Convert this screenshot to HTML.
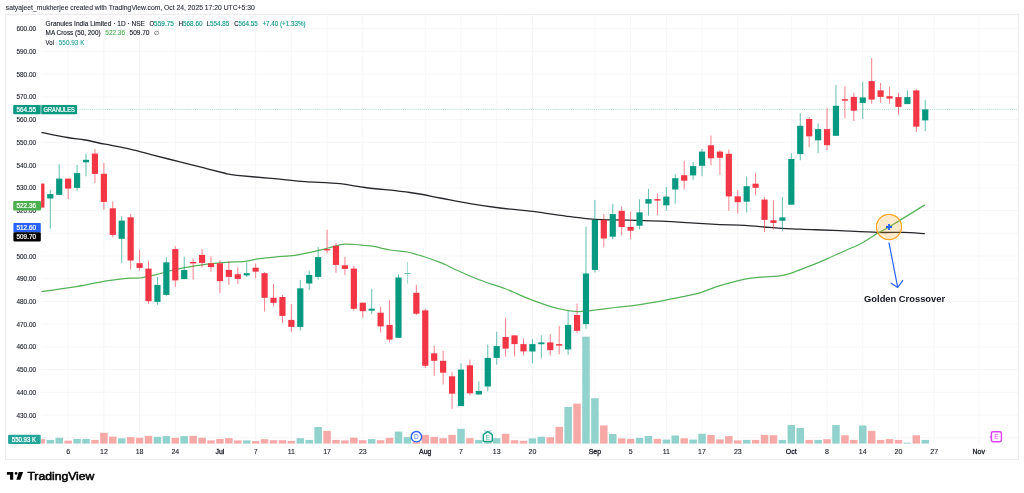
<!DOCTYPE html>
<html><head><meta charset="utf-8"><title>Granules India Limited chart</title>
<style>html,body{margin:0;padding:0;background:#fff}body{width:1024px;height:493px;overflow:hidden}</style></head>
<body>
<svg width="1024" height="493" viewBox="0 0 1024 493" style="display:block">
<rect x="0" y="0" width="1024" height="493" fill="#ffffff"/>
<rect x="5.5" y="14.5" width="1013" height="445" fill="none" stroke="#ebebee" stroke-width="1"/>
<path d="M68.15 15V443.7M103.87 15V443.7M139.58 15V443.7M175.29 15V443.7M219.93 15V443.7M255.64 15V443.7M291.35 15V443.7M327.07 15V443.7M362.78 15V443.7M425.27 15V443.7M460.99 15V443.7M496.70 15V443.7M532.41 15V443.7M594.91 15V443.7M630.62 15V443.7M666.33 15V443.7M702.04 15V443.7M737.75 15V443.7M791.32 15V443.7M827.03 15V443.7M862.75 15V443.7M898.46 15V443.7M934.17 15V443.7M978.81 15V443.7M41.5 437.74H1018M41.5 415.02H1018M41.5 392.30H1018M41.5 369.58H1018M41.5 346.86H1018M41.5 324.14H1018M41.5 301.42H1018M41.5 278.70H1018M41.5 255.98H1018M41.5 233.26H1018M41.5 210.54H1018M41.5 187.82H1018M41.5 165.10H1018M41.5 142.38H1018M41.5 119.66H1018M41.5 96.94H1018M41.5 74.22H1018M41.5 51.50H1018M41.5 28.78H1018" stroke="#f8f5f7" stroke-width="1" fill="none"/>
<clipPath id="pane"><rect x="41.2" y="15" width="976.8" height="428.8"/></clipPath>
<g clip-path="url(#pane)">
<rect x="37.62" y="439.1" width="7.5" height="4.7" fill="#f7a9a7"/>
<rect x="46.55" y="439.9" width="7.5" height="3.9" fill="#92d2cc"/>
<rect x="55.48" y="437.8" width="7.5" height="6.0" fill="#92d2cc"/>
<rect x="64.40" y="440.6" width="7.5" height="3.2" fill="#f7a9a7"/>
<rect x="73.33" y="438.9" width="7.5" height="4.9" fill="#92d2cc"/>
<rect x="82.26" y="438.9" width="7.5" height="4.9" fill="#92d2cc"/>
<rect x="91.19" y="439.9" width="7.5" height="3.9" fill="#f7a9a7"/>
<rect x="100.12" y="432.8" width="7.5" height="11.0" fill="#f7a9a7"/>
<rect x="109.04" y="436.6" width="7.5" height="7.2" fill="#f7a9a7"/>
<rect x="117.97" y="438.3" width="7.5" height="5.5" fill="#92d2cc"/>
<rect x="126.90" y="437.1" width="7.5" height="6.7" fill="#f7a9a7"/>
<rect x="135.83" y="437.8" width="7.5" height="6.0" fill="#f7a9a7"/>
<rect x="144.76" y="435.9" width="7.5" height="7.9" fill="#f7a9a7"/>
<rect x="153.68" y="436.8" width="7.5" height="7.0" fill="#92d2cc"/>
<rect x="162.61" y="436.1" width="7.5" height="7.7" fill="#92d2cc"/>
<rect x="171.54" y="437.8" width="7.5" height="6.0" fill="#f7a9a7"/>
<rect x="180.47" y="436.1" width="7.5" height="7.7" fill="#92d2cc"/>
<rect x="189.40" y="435.9" width="7.5" height="7.9" fill="#f7a9a7"/>
<rect x="198.32" y="437.7" width="7.5" height="6.1" fill="#f7a9a7"/>
<rect x="207.25" y="440.4" width="7.5" height="3.4" fill="#f7a9a7"/>
<rect x="216.18" y="438.9" width="7.5" height="4.9" fill="#f7a9a7"/>
<rect x="225.11" y="438.1" width="7.5" height="5.7" fill="#f7a9a7"/>
<rect x="234.04" y="440.4" width="7.5" height="3.4" fill="#f7a9a7"/>
<rect x="242.96" y="440.4" width="7.5" height="3.4" fill="#92d2cc"/>
<rect x="251.89" y="441.1" width="7.5" height="2.7" fill="#f7a9a7"/>
<rect x="260.82" y="439.2" width="7.5" height="4.6" fill="#f7a9a7"/>
<rect x="269.75" y="440.2" width="7.5" height="3.6" fill="#f7a9a7"/>
<rect x="278.68" y="440.2" width="7.5" height="3.6" fill="#f7a9a7"/>
<rect x="287.60" y="440.9" width="7.5" height="2.9" fill="#f7a9a7"/>
<rect x="296.53" y="438.2" width="7.5" height="5.6" fill="#92d2cc"/>
<rect x="305.46" y="439.9" width="7.5" height="3.9" fill="#92d2cc"/>
<rect x="314.39" y="427.0" width="7.5" height="16.8" fill="#92d2cc"/>
<rect x="323.32" y="430.9" width="7.5" height="12.9" fill="#f7a9a7"/>
<rect x="332.24" y="439.9" width="7.5" height="3.9" fill="#f7a9a7"/>
<rect x="341.17" y="440.4" width="7.5" height="3.4" fill="#f7a9a7"/>
<rect x="350.10" y="437.7" width="7.5" height="6.1" fill="#f7a9a7"/>
<rect x="359.03" y="440.2" width="7.5" height="3.6" fill="#f7a9a7"/>
<rect x="367.96" y="439.1" width="7.5" height="4.7" fill="#92d2cc"/>
<rect x="376.88" y="440.2" width="7.5" height="3.6" fill="#f7a9a7"/>
<rect x="385.81" y="437.9" width="7.5" height="5.9" fill="#f7a9a7"/>
<rect x="394.74" y="431.6" width="7.5" height="12.2" fill="#92d2cc"/>
<rect x="403.67" y="437.1" width="7.5" height="6.7" fill="#92d2cc"/>
<rect x="412.60" y="441.0" width="7.5" height="2.8" fill="#f7a9a7"/>
<rect x="421.52" y="434.9" width="7.5" height="8.9" fill="#f7a9a7"/>
<rect x="430.45" y="436.9" width="7.5" height="6.9" fill="#f7a9a7"/>
<rect x="439.38" y="438.2" width="7.5" height="5.6" fill="#f7a9a7"/>
<rect x="448.31" y="434.9" width="7.5" height="8.9" fill="#f7a9a7"/>
<rect x="457.24" y="428.8" width="7.5" height="15.0" fill="#92d2cc"/>
<rect x="466.16" y="438.2" width="7.5" height="5.6" fill="#f7a9a7"/>
<rect x="475.09" y="439.9" width="7.5" height="3.9" fill="#92d2cc"/>
<rect x="484.02" y="432.4" width="7.5" height="11.4" fill="#92d2cc"/>
<rect x="492.95" y="438.2" width="7.5" height="5.6" fill="#92d2cc"/>
<rect x="501.88" y="433.8" width="7.5" height="10.0" fill="#f7a9a7"/>
<rect x="510.80" y="440.2" width="7.5" height="3.6" fill="#f7a9a7"/>
<rect x="519.73" y="440.8" width="7.5" height="3.0" fill="#f7a9a7"/>
<rect x="528.66" y="438.4" width="7.5" height="5.4" fill="#92d2cc"/>
<rect x="537.59" y="436.7" width="7.5" height="7.1" fill="#92d2cc"/>
<rect x="546.52" y="437.2" width="7.5" height="6.6" fill="#f7a9a7"/>
<rect x="555.44" y="426.9" width="7.5" height="16.9" fill="#f7a9a7"/>
<rect x="564.37" y="407.0" width="7.5" height="36.8" fill="#92d2cc"/>
<rect x="573.30" y="403.6" width="7.5" height="40.2" fill="#f7a9a7"/>
<rect x="582.23" y="336.6" width="7.5" height="107.2" fill="#92d2cc"/>
<rect x="591.16" y="398.2" width="7.5" height="45.6" fill="#92d2cc"/>
<rect x="600.08" y="425.5" width="7.5" height="18.3" fill="#f7a9a7"/>
<rect x="609.01" y="434.0" width="7.5" height="9.8" fill="#92d2cc"/>
<rect x="617.94" y="438.4" width="7.5" height="5.4" fill="#f7a9a7"/>
<rect x="626.87" y="438.9" width="7.5" height="4.9" fill="#f7a9a7"/>
<rect x="635.80" y="437.9" width="7.5" height="5.9" fill="#92d2cc"/>
<rect x="644.72" y="435.9" width="7.5" height="7.9" fill="#92d2cc"/>
<rect x="653.65" y="438.9" width="7.5" height="4.9" fill="#f7a9a7"/>
<rect x="662.58" y="439.6" width="7.5" height="4.2" fill="#92d2cc"/>
<rect x="671.51" y="435.5" width="7.5" height="8.3" fill="#92d2cc"/>
<rect x="680.44" y="438.3" width="7.5" height="5.5" fill="#f7a9a7"/>
<rect x="689.36" y="439.6" width="7.5" height="4.2" fill="#92d2cc"/>
<rect x="698.29" y="433.8" width="7.5" height="10.0" fill="#92d2cc"/>
<rect x="707.22" y="434.9" width="7.5" height="8.9" fill="#f7a9a7"/>
<rect x="716.15" y="439.4" width="7.5" height="4.4" fill="#f7a9a7"/>
<rect x="725.08" y="436.1" width="7.5" height="7.7" fill="#f7a9a7"/>
<rect x="734.00" y="440.4" width="7.5" height="3.4" fill="#f7a9a7"/>
<rect x="742.93" y="439.9" width="7.5" height="3.9" fill="#92d2cc"/>
<rect x="751.86" y="439.9" width="7.5" height="3.9" fill="#f7a9a7"/>
<rect x="760.79" y="434.9" width="7.5" height="8.9" fill="#f7a9a7"/>
<rect x="769.72" y="435.3" width="7.5" height="8.5" fill="#f7a9a7"/>
<rect x="778.64" y="439.9" width="7.5" height="3.9" fill="#92d2cc"/>
<rect x="787.57" y="425.0" width="7.5" height="18.8" fill="#92d2cc"/>
<rect x="796.50" y="427.9" width="7.5" height="15.9" fill="#92d2cc"/>
<rect x="805.43" y="439.9" width="7.5" height="3.9" fill="#f7a9a7"/>
<rect x="814.36" y="439.9" width="7.5" height="3.9" fill="#92d2cc"/>
<rect x="823.28" y="439.2" width="7.5" height="4.6" fill="#f7a9a7"/>
<rect x="832.21" y="425.0" width="7.5" height="18.8" fill="#92d2cc"/>
<rect x="841.14" y="435.3" width="7.5" height="8.5" fill="#f7a9a7"/>
<rect x="850.07" y="439.9" width="7.5" height="3.9" fill="#f7a9a7"/>
<rect x="859.00" y="425.5" width="7.5" height="18.3" fill="#92d2cc"/>
<rect x="867.92" y="430.9" width="7.5" height="12.9" fill="#f7a9a7"/>
<rect x="876.85" y="439.9" width="7.5" height="3.9" fill="#f7a9a7"/>
<rect x="885.78" y="439.1" width="7.5" height="4.7" fill="#f7a9a7"/>
<rect x="894.71" y="439.9" width="7.5" height="3.9" fill="#f7a9a7"/>
<rect x="903.64" y="442.7" width="7.5" height="1.1" fill="#92d2cc"/>
<rect x="912.56" y="435.3" width="7.5" height="8.5" fill="#f7a9a7"/>
<rect x="921.49" y="439.9" width="7.5" height="3.9" fill="#92d2cc"/>
<path d="M41.4 132.3C45.8 133.2 60.2 136.2 67.5 137.5C74.8 138.8 78.8 138.9 85.0 140.0C91.2 141.1 97.5 142.7 105.0 144.2C112.5 145.7 121.7 147.3 130.0 149.2C138.3 151.1 146.7 153.5 155.0 155.6C163.3 157.7 171.7 159.8 180.0 161.9C188.3 164.0 197.7 166.3 205.0 168.2C212.3 170.0 219.8 172.0 224.0 173.0C228.2 174.0 227.8 174.0 230.0 174.4C232.2 174.8 232.8 174.9 237.0 175.3C241.2 175.7 247.8 176.3 255.0 177.0C262.2 177.7 271.7 178.4 280.0 179.2C288.3 180.0 295.0 180.9 305.0 181.7C315.0 182.4 330.0 182.7 340.0 183.7C350.0 184.7 353.3 186.0 365.0 187.5C376.7 189.0 397.5 190.8 410.0 192.5C422.5 194.2 430.0 196.1 440.0 198.0C450.0 199.9 460.0 202.0 470.0 203.7C480.0 205.4 489.2 206.7 500.0 208.0C510.8 209.3 527.5 210.8 535.0 211.7C542.5 212.6 537.8 212.2 545.0 213.2C552.2 214.2 570.0 216.7 578.3 217.7C586.6 218.7 586.6 219.0 594.9 219.4C603.2 219.8 617.1 219.9 628.2 220.2C639.3 220.5 650.3 220.7 661.4 221.2C672.5 221.7 685.0 222.6 694.7 223.2C704.5 223.8 711.5 224.2 719.9 224.6C728.3 224.9 736.6 224.8 744.9 225.3C753.2 225.8 762.9 226.9 769.8 227.4C776.7 227.9 779.5 228.2 786.4 228.6C793.3 229.0 802.5 229.2 811.4 229.6C820.3 229.9 828.6 230.2 839.7 230.7C850.8 231.2 867.6 232.1 878.2 232.4C888.8 232.7 895.4 232.2 903.2 232.4C911.0 232.6 921.2 233.5 924.8 233.7" stroke="#26272b" stroke-width="1.3" fill="none" stroke-linejoin="round"/>
<path d="M41.4 291.6C47.3 290.8 66.0 288.4 76.6 286.6C87.2 284.9 96.6 282.5 104.9 281.1C113.2 279.7 120.7 278.8 126.5 278.3C132.3 277.8 134.8 278.6 139.8 278.0C144.8 277.4 150.9 275.9 156.4 274.6C161.9 273.3 166.6 271.5 173.0 270.0C179.4 268.5 187.2 267.0 195.0 265.8C202.8 264.6 211.7 263.6 220.0 262.9C228.3 262.1 238.9 261.9 245.0 261.3C251.1 260.7 251.5 259.8 256.5 259.1C261.5 258.4 268.4 257.7 274.8 257.1C281.2 256.5 288.7 256.2 294.8 255.4C300.9 254.6 305.9 253.3 311.4 252.1C316.9 250.9 323.6 249.1 328.0 248.0C332.4 246.9 335.2 246.0 338.0 245.3C340.8 244.7 341.9 244.2 344.7 244.1C347.5 244.0 351.4 244.3 354.7 244.5C358.0 244.7 361.7 245.2 364.7 245.5C367.7 245.8 368.3 245.4 372.5 246.2C376.7 246.9 384.2 249.0 390.0 250.0C395.8 251.0 402.8 251.2 407.5 252.0C412.2 252.8 415.3 254.2 418.2 255.0C421.1 255.8 421.7 255.9 425.0 257.0C428.3 258.1 434.9 260.4 438.2 261.7C441.5 262.9 441.7 263.0 445.0 264.5C448.3 266.0 452.3 268.2 458.1 270.8C463.9 273.4 472.0 277.1 479.8 280.0C487.6 282.9 498.3 286.1 504.7 288.5C511.1 290.9 513.5 292.3 518.0 294.2C522.5 296.1 526.6 297.9 531.6 299.8C536.6 301.7 542.8 304.1 548.3 305.8C553.8 307.5 559.9 309.0 564.9 310.0C569.9 311.0 574.3 311.5 578.2 311.6C582.1 311.7 582.1 311.5 588.2 310.8C594.3 310.1 606.2 308.5 614.8 307.5C623.4 306.5 631.5 305.8 639.8 304.6C648.1 303.4 657.2 301.7 664.7 300.3C672.2 298.9 678.8 297.5 684.7 296.3C690.6 295.1 694.0 294.7 699.9 292.9C705.8 291.1 712.4 288.0 719.9 285.7C727.4 283.4 738.0 280.5 744.9 279.1C751.8 277.7 756.0 277.6 761.5 277.1C767.0 276.6 773.4 276.8 778.1 276.2C782.8 275.6 784.8 275.2 789.8 273.6C794.8 272.0 802.0 269.0 808.1 266.6C814.2 264.2 820.2 261.8 826.4 259.1C832.5 256.5 839.1 253.3 845.0 250.7C850.9 248.0 856.1 246.2 861.6 243.2C867.1 240.2 873.6 235.6 878.2 232.9C882.8 230.2 881.2 231.7 889.0 227.0C896.8 222.3 918.8 208.6 924.8 204.9" stroke="#55b359" stroke-width="1.25" fill="none" stroke-linejoin="round"/>
<path d="M77.5 109.5H1018" stroke="#089981" stroke-width="0.8" stroke-dasharray="1 1.1" opacity="0.36" fill="none"/>
<rect x="40.87" y="183.6" width="1" height="24.0" fill="#f23645" opacity="0.62"/>
<rect x="38.27" y="183.6" width="6.2" height="24.0" fill="#f23645"/>
<rect x="49.80" y="189.9" width="1" height="38.7" fill="#089981" opacity="0.62"/>
<rect x="47.20" y="194.1" width="6.2" height="4.4" fill="#089981"/>
<rect x="58.73" y="164.3" width="1" height="30.6" fill="#089981" opacity="0.62"/>
<rect x="56.13" y="178.6" width="6.2" height="16.3" fill="#089981"/>
<rect x="67.65" y="178.6" width="1" height="20.4" fill="#f23645" opacity="0.62"/>
<rect x="65.05" y="178.6" width="6.2" height="10.0" fill="#f23645"/>
<rect x="76.58" y="165.0" width="1" height="25.7" fill="#089981" opacity="0.62"/>
<rect x="73.98" y="173.1" width="6.2" height="14.8" fill="#089981"/>
<rect x="85.51" y="153.6" width="1" height="22.7" fill="#089981" opacity="0.62"/>
<rect x="82.91" y="159.8" width="6.2" height="2.5" fill="#089981"/>
<rect x="94.44" y="149.1" width="1" height="33.8" fill="#f23645" opacity="0.62"/>
<rect x="91.84" y="153.6" width="6.2" height="20.3" fill="#f23645"/>
<rect x="103.37" y="163.0" width="1" height="46.9" fill="#f23645" opacity="0.62"/>
<rect x="100.77" y="173.8" width="6.2" height="28.1" fill="#f23645"/>
<rect x="112.29" y="201.3" width="1" height="36.1" fill="#f23645" opacity="0.62"/>
<rect x="109.69" y="208.3" width="6.2" height="26.6" fill="#f23645"/>
<rect x="121.22" y="216.1" width="1" height="47.1" fill="#089981" opacity="0.62"/>
<rect x="118.62" y="220.6" width="6.2" height="18.2" fill="#089981"/>
<rect x="130.15" y="214.1" width="1" height="55.3" fill="#f23645" opacity="0.62"/>
<rect x="127.55" y="217.3" width="6.2" height="43.2" fill="#f23645"/>
<rect x="139.08" y="249.6" width="1" height="21.1" fill="#f23645" opacity="0.62"/>
<rect x="136.48" y="263.2" width="6.2" height="4.7" fill="#f23645"/>
<rect x="148.01" y="260.8" width="1" height="42.8" fill="#f23645" opacity="0.62"/>
<rect x="145.41" y="268.6" width="6.2" height="32.6" fill="#f23645"/>
<rect x="156.93" y="277.0" width="1" height="27.9" fill="#089981" opacity="0.62"/>
<rect x="154.33" y="284.9" width="6.2" height="17.0" fill="#089981"/>
<rect x="165.86" y="257.0" width="1" height="39.0" fill="#089981" opacity="0.62"/>
<rect x="163.26" y="262.3" width="6.2" height="32.6" fill="#089981"/>
<rect x="174.79" y="246.2" width="1" height="40.7" fill="#f23645" opacity="0.62"/>
<rect x="172.19" y="249.1" width="6.2" height="31.3" fill="#f23645"/>
<rect x="183.72" y="256.7" width="1" height="22.4" fill="#089981" opacity="0.62"/>
<rect x="181.12" y="270.0" width="6.2" height="9.1" fill="#089981"/>
<rect x="192.65" y="258.5" width="1" height="21.1" fill="#f23645" opacity="0.62"/>
<rect x="190.05" y="262.0" width="6.2" height="1.4" fill="#f23645"/>
<rect x="201.57" y="249.1" width="1" height="18.3" fill="#f23645" opacity="0.62"/>
<rect x="198.97" y="254.9" width="6.2" height="8.0" fill="#f23645"/>
<rect x="210.50" y="256.3" width="1" height="15.3" fill="#f23645" opacity="0.62"/>
<rect x="207.90" y="263.3" width="6.2" height="3.8" fill="#f23645"/>
<rect x="219.43" y="260.3" width="1" height="32.9" fill="#f23645" opacity="0.62"/>
<rect x="216.83" y="263.3" width="6.2" height="17.8" fill="#f23645"/>
<rect x="228.36" y="261.1" width="1" height="23.8" fill="#f23645" opacity="0.62"/>
<rect x="225.76" y="269.9" width="6.2" height="7.0" fill="#f23645"/>
<rect x="237.29" y="267.4" width="1" height="16.6" fill="#f23645" opacity="0.62"/>
<rect x="234.69" y="274.2" width="6.2" height="4.7" fill="#f23645"/>
<rect x="246.21" y="262.4" width="1" height="14.5" fill="#089981" opacity="0.62"/>
<rect x="243.61" y="273.2" width="6.2" height="2.2" fill="#089981"/>
<rect x="255.14" y="263.6" width="1" height="14.6" fill="#f23645" opacity="0.62"/>
<rect x="252.54" y="267.7" width="6.2" height="4.0" fill="#f23645"/>
<rect x="264.07" y="272.1" width="1" height="39.5" fill="#f23645" opacity="0.62"/>
<rect x="261.47" y="273.2" width="6.2" height="24.6" fill="#f23645"/>
<rect x="273.00" y="284.0" width="1" height="21.8" fill="#f23645" opacity="0.62"/>
<rect x="270.40" y="297.8" width="6.2" height="5.0" fill="#f23645"/>
<rect x="281.93" y="295.0" width="1" height="27.8" fill="#f23645" opacity="0.62"/>
<rect x="279.33" y="297.0" width="6.2" height="18.9" fill="#f23645"/>
<rect x="290.85" y="304.1" width="1" height="28.0" fill="#f23645" opacity="0.62"/>
<rect x="288.25" y="319.9" width="6.2" height="7.0" fill="#f23645"/>
<rect x="299.78" y="279.9" width="1" height="50.8" fill="#089981" opacity="0.62"/>
<rect x="297.18" y="288.3" width="6.2" height="38.6" fill="#089981"/>
<rect x="308.71" y="270.7" width="1" height="19.2" fill="#089981" opacity="0.62"/>
<rect x="306.11" y="274.9" width="6.2" height="8.6" fill="#089981"/>
<rect x="317.64" y="247.1" width="1" height="32.5" fill="#089981" opacity="0.62"/>
<rect x="315.04" y="257.1" width="6.2" height="19.8" fill="#089981"/>
<rect x="326.57" y="229.7" width="1" height="23.6" fill="#f23645" opacity="0.62"/>
<rect x="323.97" y="249.1" width="6.2" height="1.3" fill="#f23645"/>
<rect x="335.49" y="243.0" width="1" height="29.7" fill="#f23645" opacity="0.62"/>
<rect x="332.89" y="245.8" width="6.2" height="19.1" fill="#f23645"/>
<rect x="344.42" y="256.9" width="1" height="18.0" fill="#f23645" opacity="0.62"/>
<rect x="341.82" y="265.3" width="6.2" height="3.6" fill="#f23645"/>
<rect x="353.35" y="265.8" width="1" height="45.0" fill="#f23645" opacity="0.62"/>
<rect x="350.75" y="268.6" width="6.2" height="40.2" fill="#f23645"/>
<rect x="362.28" y="302.7" width="1" height="15.2" fill="#f23645" opacity="0.62"/>
<rect x="359.68" y="302.7" width="6.2" height="8.5" fill="#f23645"/>
<rect x="371.21" y="288.8" width="1" height="25.2" fill="#089981" opacity="0.62"/>
<rect x="368.61" y="308.7" width="6.2" height="2.0" fill="#089981"/>
<rect x="380.13" y="306.6" width="1" height="26.0" fill="#f23645" opacity="0.62"/>
<rect x="377.53" y="312.7" width="6.2" height="13.7" fill="#f23645"/>
<rect x="389.06" y="300.2" width="1" height="42.3" fill="#f23645" opacity="0.62"/>
<rect x="386.46" y="324.9" width="6.2" height="14.7" fill="#f23645"/>
<rect x="397.99" y="274.1" width="1" height="63.7" fill="#089981" opacity="0.62"/>
<rect x="395.39" y="277.5" width="6.2" height="60.3" fill="#089981"/>
<g opacity="0.6">
<rect x="406.92" y="262.0" width="1" height="21.6" fill="#089981" opacity="0.62"/>
<rect x="404.32" y="273.0" width="6.2" height="1.0" fill="#089981"/>
</g>
<rect x="415.85" y="284.9" width="1" height="30.3" fill="#f23645" opacity="0.62"/>
<rect x="413.25" y="292.8" width="6.2" height="20.9" fill="#f23645"/>
<rect x="424.77" y="308.6" width="1" height="59.3" fill="#f23645" opacity="0.62"/>
<rect x="422.17" y="310.4" width="6.2" height="55.4" fill="#f23645"/>
<rect x="433.70" y="345.8" width="1" height="29.9" fill="#f23645" opacity="0.62"/>
<rect x="431.10" y="353.3" width="6.2" height="7.5" fill="#f23645"/>
<rect x="442.63" y="350.8" width="1" height="33.6" fill="#f23645" opacity="0.62"/>
<rect x="440.03" y="360.8" width="6.2" height="11.9" fill="#f23645"/>
<rect x="451.56" y="372.2" width="1" height="36.6" fill="#f23645" opacity="0.62"/>
<rect x="448.96" y="376.3" width="6.2" height="17.4" fill="#f23645"/>
<rect x="460.49" y="363.3" width="1" height="42.8" fill="#089981" opacity="0.62"/>
<rect x="457.89" y="369.6" width="6.2" height="36.5" fill="#089981"/>
<rect x="469.41" y="359.6" width="1" height="35.8" fill="#f23645" opacity="0.62"/>
<rect x="466.81" y="365.3" width="6.2" height="28.0" fill="#f23645"/>
<rect x="478.34" y="381.4" width="1" height="13.1" fill="#089981" opacity="0.62"/>
<rect x="475.74" y="390.9" width="6.2" height="3.6" fill="#089981"/>
<rect x="487.27" y="344.6" width="1" height="46.9" fill="#089981" opacity="0.62"/>
<rect x="484.67" y="357.9" width="6.2" height="28.6" fill="#089981"/>
<rect x="496.20" y="331.7" width="1" height="32.9" fill="#089981" opacity="0.62"/>
<rect x="493.60" y="346.1" width="6.2" height="11.8" fill="#089981"/>
<rect x="505.13" y="317.9" width="1" height="38.7" fill="#f23645" opacity="0.62"/>
<rect x="502.53" y="337.0" width="6.2" height="11.6" fill="#f23645"/>
<rect x="514.05" y="335.3" width="1" height="21.3" fill="#f23645" opacity="0.62"/>
<rect x="511.45" y="335.4" width="6.2" height="8.7" fill="#f23645"/>
<rect x="522.98" y="338.1" width="1" height="17.1" fill="#f23645" opacity="0.62"/>
<rect x="520.38" y="344.1" width="6.2" height="7.3" fill="#f23645"/>
<rect x="531.91" y="339.1" width="1" height="24.4" fill="#089981" opacity="0.62"/>
<rect x="529.31" y="344.1" width="6.2" height="7.4" fill="#089981"/>
<rect x="540.84" y="335.2" width="1" height="23.0" fill="#089981" opacity="0.62"/>
<rect x="538.24" y="342.4" width="6.2" height="1.8" fill="#089981"/>
<rect x="549.77" y="334.1" width="1" height="21.3" fill="#f23645" opacity="0.62"/>
<rect x="547.17" y="342.4" width="6.2" height="7.8" fill="#f23645"/>
<rect x="558.69" y="326.1" width="1" height="28.3" fill="#f23645" opacity="0.62"/>
<rect x="556.09" y="344.1" width="6.2" height="1.5" fill="#f23645"/>
<rect x="567.62" y="310.8" width="1" height="44.1" fill="#089981" opacity="0.62"/>
<rect x="565.02" y="324.9" width="6.2" height="24.5" fill="#089981"/>
<rect x="576.55" y="303.6" width="1" height="29.6" fill="#f23645" opacity="0.62"/>
<rect x="573.95" y="315.0" width="6.2" height="15.8" fill="#f23645"/>
<rect x="585.48" y="226.6" width="1" height="102.0" fill="#089981" opacity="0.62"/>
<rect x="582.88" y="273.5" width="6.2" height="50.6" fill="#089981"/>
<rect x="594.41" y="199.9" width="1" height="72.5" fill="#089981" opacity="0.62"/>
<rect x="591.81" y="219.9" width="6.2" height="50.0" fill="#089981"/>
<rect x="603.33" y="214.1" width="1" height="33.3" fill="#f23645" opacity="0.62"/>
<rect x="600.73" y="219.9" width="6.2" height="18.6" fill="#f23645"/>
<rect x="612.26" y="203.8" width="1" height="35.3" fill="#089981" opacity="0.62"/>
<rect x="609.66" y="214.1" width="6.2" height="22.6" fill="#089981"/>
<rect x="621.19" y="206.6" width="1" height="28.7" fill="#f23645" opacity="0.62"/>
<rect x="618.59" y="210.8" width="6.2" height="16.2" fill="#f23645"/>
<rect x="630.12" y="211.6" width="1" height="27.5" fill="#f23645" opacity="0.62"/>
<rect x="627.52" y="226.9" width="6.2" height="3.8" fill="#f23645"/>
<rect x="639.05" y="199.4" width="1" height="30.1" fill="#089981" opacity="0.62"/>
<rect x="636.45" y="212.4" width="6.2" height="13.3" fill="#089981"/>
<rect x="647.97" y="188.8" width="1" height="26.9" fill="#089981" opacity="0.62"/>
<rect x="645.37" y="199.1" width="6.2" height="4.5" fill="#089981"/>
<rect x="656.90" y="193.3" width="1" height="21.9" fill="#f23645" opacity="0.62"/>
<rect x="654.30" y="199.1" width="6.2" height="1.5" fill="#f23645"/>
<rect x="665.83" y="187.1" width="1" height="23.7" fill="#089981" opacity="0.62"/>
<rect x="663.23" y="196.6" width="6.2" height="8.7" fill="#089981"/>
<rect x="674.76" y="174.1" width="1" height="29.5" fill="#089981" opacity="0.62"/>
<rect x="672.16" y="178.2" width="6.2" height="11.3" fill="#089981"/>
<rect x="683.69" y="160.8" width="1" height="28.7" fill="#f23645" opacity="0.62"/>
<rect x="681.09" y="175.2" width="6.2" height="5.5" fill="#f23645"/>
<rect x="692.61" y="161.9" width="1" height="17.9" fill="#089981" opacity="0.62"/>
<rect x="690.01" y="166.1" width="6.2" height="9.3" fill="#089981"/>
<rect x="701.54" y="148.8" width="1" height="27.4" fill="#089981" opacity="0.62"/>
<rect x="698.94" y="151.6" width="6.2" height="14.2" fill="#089981"/>
<rect x="710.47" y="135.5" width="1" height="29.8" fill="#f23645" opacity="0.62"/>
<rect x="707.87" y="145.3" width="6.2" height="13.0" fill="#f23645"/>
<rect x="719.40" y="150.0" width="1" height="24.9" fill="#f23645" opacity="0.62"/>
<rect x="716.80" y="151.6" width="6.2" height="6.2" fill="#f23645"/>
<rect x="728.33" y="149.6" width="1" height="61.2" fill="#f23645" opacity="0.62"/>
<rect x="725.73" y="153.8" width="6.2" height="42.6" fill="#f23645"/>
<rect x="737.25" y="190.1" width="1" height="23.5" fill="#f23645" opacity="0.62"/>
<rect x="734.65" y="196.3" width="6.2" height="5.9" fill="#f23645"/>
<rect x="746.18" y="176.6" width="1" height="35.8" fill="#089981" opacity="0.62"/>
<rect x="743.58" y="186.2" width="6.2" height="15.5" fill="#089981"/>
<rect x="755.11" y="173.2" width="1" height="21.9" fill="#f23645" opacity="0.62"/>
<rect x="752.51" y="183.7" width="6.2" height="4.1" fill="#f23645"/>
<rect x="764.04" y="197.2" width="1" height="34.9" fill="#f23645" opacity="0.62"/>
<rect x="761.44" y="199.6" width="6.2" height="20.3" fill="#f23645"/>
<rect x="772.97" y="200.4" width="1" height="29.2" fill="#f23645" opacity="0.62"/>
<rect x="770.37" y="220.3" width="6.2" height="2.6" fill="#f23645"/>
<rect x="781.89" y="197.0" width="1" height="33.7" fill="#089981" opacity="0.62"/>
<rect x="779.29" y="217.4" width="6.2" height="3.4" fill="#089981"/>
<rect x="790.82" y="153.2" width="1" height="51.5" fill="#089981" opacity="0.62"/>
<rect x="788.22" y="159.0" width="6.2" height="45.7" fill="#089981"/>
<rect x="799.75" y="113.2" width="1" height="47.1" fill="#089981" opacity="0.62"/>
<rect x="797.15" y="125.8" width="6.2" height="28.3" fill="#089981"/>
<rect x="808.68" y="117.2" width="1" height="29.8" fill="#f23645" opacity="0.62"/>
<rect x="806.08" y="119.0" width="6.2" height="17.3" fill="#f23645"/>
<rect x="817.61" y="123.4" width="1" height="29.8" fill="#089981" opacity="0.62"/>
<rect x="815.01" y="129.1" width="6.2" height="11.2" fill="#089981"/>
<rect x="826.53" y="108.2" width="1" height="42.2" fill="#f23645" opacity="0.62"/>
<rect x="823.93" y="129.1" width="6.2" height="16.1" fill="#f23645"/>
<rect x="835.46" y="84.9" width="1" height="50.9" fill="#089981" opacity="0.62"/>
<rect x="832.86" y="105.8" width="6.2" height="30.0" fill="#089981"/>
<rect x="844.39" y="86.3" width="1" height="32.2" fill="#f23645" opacity="0.62"/>
<rect x="841.79" y="99.2" width="6.2" height="1.5" fill="#f23645"/>
<rect x="853.32" y="92.9" width="1" height="28.1" fill="#f23645" opacity="0.62"/>
<rect x="850.72" y="96.9" width="6.2" height="13.8" fill="#f23645"/>
<rect x="862.25" y="81.9" width="1" height="37.1" fill="#089981" opacity="0.62"/>
<rect x="859.65" y="97.4" width="6.2" height="5.5" fill="#089981"/>
<rect x="871.17" y="58.0" width="1" height="45.7" fill="#f23645" opacity="0.62"/>
<rect x="868.57" y="81.1" width="6.2" height="18.5" fill="#f23645"/>
<rect x="880.10" y="82.9" width="1" height="20.0" fill="#f23645" opacity="0.62"/>
<rect x="877.50" y="90.4" width="6.2" height="6.5" fill="#f23645"/>
<rect x="889.03" y="86.6" width="1" height="17.1" fill="#f23645" opacity="0.62"/>
<rect x="886.43" y="96.2" width="6.2" height="2.4" fill="#f23645"/>
<rect x="897.96" y="92.9" width="1" height="21.6" fill="#f23645" opacity="0.62"/>
<rect x="895.36" y="97.1" width="6.2" height="9.8" fill="#f23645"/>
<rect x="906.89" y="90.3" width="1" height="13.8" fill="#089981" opacity="0.62"/>
<rect x="904.29" y="97.1" width="6.2" height="7.0" fill="#089981"/>
<rect x="915.81" y="89.1" width="1" height="42.9" fill="#f23645" opacity="0.62"/>
<rect x="913.21" y="90.4" width="6.2" height="36.3" fill="#f23645"/>
<rect x="924.74" y="99.9" width="1" height="31.1" fill="#089981" opacity="0.62"/>
<rect x="922.14" y="109.4" width="6.2" height="11.0" fill="#089981"/>
</g>
<circle cx="889" cy="227" r="12.6" fill="#ff9800" fill-opacity="0.2" stroke="#ffa11a" stroke-width="1.2"/>
<path d="M886 227H892M889 224V230" stroke="#2962ff" stroke-width="1.8" fill="none"/>
<path d="M889 242.8L897.7 287.4M891.2 283.2L897.7 287.4L902.7 280.7" stroke="#2962ff" stroke-width="1.2" fill="none" stroke-linecap="round" stroke-linejoin="round"/>
<text x="864.1" y="301.9" font-family="Liberation Sans, sans-serif" font-size="9.4" font-weight="bold" fill="#131722" textLength="81" lengthAdjust="spacingAndGlyphs">Golden Crossover</text>
<circle cx="416.4" cy="436.7" r="5.2" fill="#fff" stroke="#2962ff" stroke-width="1.4"/>
<text x="416.4" y="439.1" font-family="Liberation Sans, sans-serif" font-size="6.5" fill="#4a7dff" text-anchor="middle">D</text>
<path d="M484.2 430.4L487.8 432.4L491.4 430.4" fill="none" stroke="#8fd0c6" stroke-width="1.1"/>
<path d="M483.3 434.7L487.8 431.5L492.3 434.7V440.4Q492.3 441.5 491.2 441.5H484.4Q483.3 441.5 483.3 440.4Z" fill="#fff" stroke="#089981" stroke-width="1.4" stroke-linejoin="round"/>
<text x="487.9" y="440.1" font-family="Liberation Sans, sans-serif" font-size="6.4" fill="#3fb09d" text-anchor="middle">E</text>
<rect x="991.4" y="431.7" width="10" height="10" rx="1.6" fill="#fff" stroke="#e040fb" stroke-width="1.4"/>
<circle cx="990.6" cy="436.8" r="1" fill="#e040fb" opacity="0.7"/>
<text x="996.5" y="439.3" font-family="Liberation Sans, sans-serif" font-size="6.5" fill="#e040fb" text-anchor="middle">E</text>
<text x="16.4" y="417.5" font-family="Liberation Sans, sans-serif" font-size="7" fill="#131722" stroke="#131722" stroke-width="0.1" textLength="19.7" lengthAdjust="spacingAndGlyphs">430.00</text>
<text x="16.4" y="394.8" font-family="Liberation Sans, sans-serif" font-size="7" fill="#131722" stroke="#131722" stroke-width="0.1" textLength="19.7" lengthAdjust="spacingAndGlyphs">440.00</text>
<text x="16.4" y="372.1" font-family="Liberation Sans, sans-serif" font-size="7" fill="#131722" stroke="#131722" stroke-width="0.1" textLength="19.7" lengthAdjust="spacingAndGlyphs">450.00</text>
<text x="16.4" y="349.4" font-family="Liberation Sans, sans-serif" font-size="7" fill="#131722" stroke="#131722" stroke-width="0.1" textLength="19.7" lengthAdjust="spacingAndGlyphs">460.00</text>
<text x="16.4" y="326.6" font-family="Liberation Sans, sans-serif" font-size="7" fill="#131722" stroke="#131722" stroke-width="0.1" textLength="19.7" lengthAdjust="spacingAndGlyphs">470.00</text>
<text x="16.4" y="303.9" font-family="Liberation Sans, sans-serif" font-size="7" fill="#131722" stroke="#131722" stroke-width="0.1" textLength="19.7" lengthAdjust="spacingAndGlyphs">480.00</text>
<text x="16.4" y="281.2" font-family="Liberation Sans, sans-serif" font-size="7" fill="#131722" stroke="#131722" stroke-width="0.1" textLength="19.7" lengthAdjust="spacingAndGlyphs">490.00</text>
<text x="16.4" y="258.5" font-family="Liberation Sans, sans-serif" font-size="7" fill="#131722" stroke="#131722" stroke-width="0.1" textLength="19.7" lengthAdjust="spacingAndGlyphs">500.00</text>
<text x="16.4" y="235.8" font-family="Liberation Sans, sans-serif" font-size="7" fill="#131722" stroke="#131722" stroke-width="0.1" textLength="19.7" lengthAdjust="spacingAndGlyphs">510.00</text>
<text x="16.4" y="213.0" font-family="Liberation Sans, sans-serif" font-size="7" fill="#131722" stroke="#131722" stroke-width="0.1" textLength="19.7" lengthAdjust="spacingAndGlyphs">520.00</text>
<text x="16.4" y="190.3" font-family="Liberation Sans, sans-serif" font-size="7" fill="#131722" stroke="#131722" stroke-width="0.1" textLength="19.7" lengthAdjust="spacingAndGlyphs">530.00</text>
<text x="16.4" y="167.6" font-family="Liberation Sans, sans-serif" font-size="7" fill="#131722" stroke="#131722" stroke-width="0.1" textLength="19.7" lengthAdjust="spacingAndGlyphs">540.00</text>
<text x="16.4" y="144.9" font-family="Liberation Sans, sans-serif" font-size="7" fill="#131722" stroke="#131722" stroke-width="0.1" textLength="19.7" lengthAdjust="spacingAndGlyphs">550.00</text>
<text x="16.4" y="122.2" font-family="Liberation Sans, sans-serif" font-size="7" fill="#131722" stroke="#131722" stroke-width="0.1" textLength="19.7" lengthAdjust="spacingAndGlyphs">560.00</text>
<text x="16.4" y="99.4" font-family="Liberation Sans, sans-serif" font-size="7" fill="#131722" stroke="#131722" stroke-width="0.1" textLength="19.7" lengthAdjust="spacingAndGlyphs">570.00</text>
<text x="16.4" y="76.7" font-family="Liberation Sans, sans-serif" font-size="7" fill="#131722" stroke="#131722" stroke-width="0.1" textLength="19.7" lengthAdjust="spacingAndGlyphs">580.00</text>
<text x="16.4" y="54.0" font-family="Liberation Sans, sans-serif" font-size="7" fill="#131722" stroke="#131722" stroke-width="0.1" textLength="19.7" lengthAdjust="spacingAndGlyphs">590.00</text>
<text x="16.4" y="31.3" font-family="Liberation Sans, sans-serif" font-size="7" fill="#131722" stroke="#131722" stroke-width="0.1" textLength="19.7" lengthAdjust="spacingAndGlyphs">600.00</text>
<rect x="13.2" y="104.9" width="27.0" height="9.4" rx="1" fill="#089981"/>
<text x="16.5" y="112.1" font-family="Liberation Sans, sans-serif" font-size="7" fill="#fff" stroke="#fff" stroke-width="0.22" textLength="19.5" lengthAdjust="spacingAndGlyphs">564.55</text>
<rect x="41.6" y="104.9" width="35.5" height="9.4" rx="1" fill="#089981"/>
<text x="43.6" y="112.1" font-family="Liberation Sans, sans-serif" font-size="7" fill="#fff" stroke="#fff" stroke-width="0.22" textLength="31.2" lengthAdjust="spacingAndGlyphs">GRANULES</text>
<rect x="39.5" y="104.9" width="3" height="9.4" fill="#089981" opacity="0.55"/>
<rect x="13.2" y="200.9" width="27.8" height="9.5" rx="1" fill="#4caf50"/>
<text x="16.5" y="208.2" font-family="Liberation Sans, sans-serif" font-size="7" fill="#fff" stroke="#fff" stroke-width="0.22" textLength="19.5" lengthAdjust="spacingAndGlyphs">522.36</text>
<rect x="13.4" y="222.9" width="27.4" height="9.4" rx="0.8" fill="#2962ff"/>
<text x="16.5" y="230.1" font-family="Liberation Sans, sans-serif" font-size="7" fill="#fff" stroke="#fff" stroke-width="0.22" textLength="19.5" lengthAdjust="spacingAndGlyphs">512.60</text>
<rect x="13.4" y="232.3" width="27.4" height="9.1" rx="0.8" fill="#000000"/>
<text x="16.5" y="239.4" font-family="Liberation Sans, sans-serif" font-size="7" fill="#fff" stroke="#fff" stroke-width="0.22" textLength="19.5" lengthAdjust="spacingAndGlyphs">509.70</text>
<rect x="8.1" y="434.7" width="32.6" height="9.2" rx="1" fill="#26a69a"/>
<text x="11.8" y="441.8" font-family="Liberation Sans, sans-serif" font-size="7" fill="#fff" stroke="#fff" stroke-width="0.22" textLength="24.3" lengthAdjust="spacingAndGlyphs">550.93 K</text>
<text x="68.2" y="453.8" font-family="Liberation Sans, sans-serif" font-size="7" stroke="#131722" stroke-width="0.1" fill="#131722" text-anchor="middle">6</text>
<text x="103.9" y="453.8" font-family="Liberation Sans, sans-serif" font-size="7" stroke="#131722" stroke-width="0.1" fill="#131722" text-anchor="middle">12</text>
<text x="139.6" y="453.8" font-family="Liberation Sans, sans-serif" font-size="7" stroke="#131722" stroke-width="0.1" fill="#131722" text-anchor="middle">18</text>
<text x="175.3" y="453.8" font-family="Liberation Sans, sans-serif" font-size="7" stroke="#131722" stroke-width="0.1" fill="#131722" text-anchor="middle">24</text>
<text x="219.9" y="453.8" font-family="Liberation Sans, sans-serif" font-size="7" stroke="#131722" stroke-width="0.28" fill="#131722" text-anchor="middle">Jul</text>
<text x="255.6" y="453.8" font-family="Liberation Sans, sans-serif" font-size="7" stroke="#131722" stroke-width="0.1" fill="#131722" text-anchor="middle">7</text>
<text x="291.4" y="453.8" font-family="Liberation Sans, sans-serif" font-size="7" stroke="#131722" stroke-width="0.1" fill="#131722" text-anchor="middle">11</text>
<text x="327.1" y="453.8" font-family="Liberation Sans, sans-serif" font-size="7" stroke="#131722" stroke-width="0.1" fill="#131722" text-anchor="middle">17</text>
<text x="362.8" y="453.8" font-family="Liberation Sans, sans-serif" font-size="7" stroke="#131722" stroke-width="0.1" fill="#131722" text-anchor="middle">23</text>
<text x="425.3" y="453.8" font-family="Liberation Sans, sans-serif" font-size="7" stroke="#131722" stroke-width="0.28" fill="#131722" text-anchor="middle">Aug</text>
<text x="461.0" y="453.8" font-family="Liberation Sans, sans-serif" font-size="7" stroke="#131722" stroke-width="0.1" fill="#131722" text-anchor="middle">7</text>
<text x="496.7" y="453.8" font-family="Liberation Sans, sans-serif" font-size="7" stroke="#131722" stroke-width="0.1" fill="#131722" text-anchor="middle">13</text>
<text x="532.4" y="453.8" font-family="Liberation Sans, sans-serif" font-size="7" stroke="#131722" stroke-width="0.1" fill="#131722" text-anchor="middle">20</text>
<text x="594.9" y="453.8" font-family="Liberation Sans, sans-serif" font-size="7" stroke="#131722" stroke-width="0.28" fill="#131722" text-anchor="middle">Sep</text>
<text x="630.6" y="453.8" font-family="Liberation Sans, sans-serif" font-size="7" stroke="#131722" stroke-width="0.1" fill="#131722" text-anchor="middle">5</text>
<text x="666.3" y="453.8" font-family="Liberation Sans, sans-serif" font-size="7" stroke="#131722" stroke-width="0.1" fill="#131722" text-anchor="middle">11</text>
<text x="702.0" y="453.8" font-family="Liberation Sans, sans-serif" font-size="7" stroke="#131722" stroke-width="0.1" fill="#131722" text-anchor="middle">17</text>
<text x="737.8" y="453.8" font-family="Liberation Sans, sans-serif" font-size="7" stroke="#131722" stroke-width="0.1" fill="#131722" text-anchor="middle">23</text>
<text x="791.3" y="453.8" font-family="Liberation Sans, sans-serif" font-size="7" stroke="#131722" stroke-width="0.28" fill="#131722" text-anchor="middle">Oct</text>
<text x="827.0" y="453.8" font-family="Liberation Sans, sans-serif" font-size="7" stroke="#131722" stroke-width="0.1" fill="#131722" text-anchor="middle">8</text>
<text x="862.7" y="453.8" font-family="Liberation Sans, sans-serif" font-size="7" stroke="#131722" stroke-width="0.1" fill="#131722" text-anchor="middle">14</text>
<text x="898.5" y="453.8" font-family="Liberation Sans, sans-serif" font-size="7" stroke="#131722" stroke-width="0.1" fill="#131722" text-anchor="middle">20</text>
<text x="934.2" y="453.8" font-family="Liberation Sans, sans-serif" font-size="7" stroke="#131722" stroke-width="0.1" fill="#131722" text-anchor="middle">27</text>
<text x="978.8" y="453.8" font-family="Liberation Sans, sans-serif" font-size="7" stroke="#131722" stroke-width="0.28" fill="#131722" text-anchor="middle">Nov</text>
<text x="5.8" y="10.3" font-family="Liberation Sans, sans-serif" font-size="7" fill="#2a2e39" stroke="#2a2e39" stroke-width="0.1" textLength="249" lengthAdjust="spacingAndGlyphs">satyajeet_mukherjee created with TradingView.com, Oct 24, 2025 17:20 UTC+5:30</text>
<text x="45.6" y="25.7" font-family="Liberation Sans, sans-serif" font-size="7" fill="#131722" stroke="#131722" stroke-width="0.12" textLength="99.4" lengthAdjust="spacingAndGlyphs">Granules India Limited · 1D · NSE</text>
<text x="149.5" y="25.7" font-family="Liberation Sans, sans-serif" font-size="7" fill="#131722" stroke="#131722" stroke-width="0.12" textLength="4.5" lengthAdjust="spacingAndGlyphs">O</text>
<text x="154" y="25.7" font-family="Liberation Sans, sans-serif" font-size="7" fill="#089981" stroke="#089981" stroke-width="0.12" textLength="20.0" lengthAdjust="spacingAndGlyphs">559.75</text>
<text x="178.4" y="25.7" font-family="Liberation Sans, sans-serif" font-size="7" fill="#131722" stroke="#131722" stroke-width="0.12" textLength="4.6" lengthAdjust="spacingAndGlyphs">H</text>
<text x="183" y="25.7" font-family="Liberation Sans, sans-serif" font-size="7" fill="#089981" stroke="#089981" stroke-width="0.12" textLength="19.6" lengthAdjust="spacingAndGlyphs">568.60</text>
<text x="206.6" y="25.7" font-family="Liberation Sans, sans-serif" font-size="7" fill="#131722" stroke="#131722" stroke-width="0.12" textLength="3.4" lengthAdjust="spacingAndGlyphs">L</text>
<text x="210" y="25.7" font-family="Liberation Sans, sans-serif" font-size="7" fill="#089981" stroke="#089981" stroke-width="0.12" textLength="19.2" lengthAdjust="spacingAndGlyphs">554.85</text>
<text x="234.2" y="25.7" font-family="Liberation Sans, sans-serif" font-size="7" fill="#131722" stroke="#131722" stroke-width="0.12" textLength="4.3" lengthAdjust="spacingAndGlyphs">C</text>
<text x="238.5" y="25.7" font-family="Liberation Sans, sans-serif" font-size="7" fill="#089981" stroke="#089981" stroke-width="0.12" textLength="19.3" lengthAdjust="spacingAndGlyphs">564.55</text>
<text x="262.4" y="25.7" font-family="Liberation Sans, sans-serif" font-size="7" fill="#089981" stroke="#089981" stroke-width="0.12" textLength="43.2" lengthAdjust="spacingAndGlyphs">+7.40 (+1.33%)</text>
<text x="45.6" y="35.4" font-family="Liberation Sans, sans-serif" font-size="7" fill="#131722" stroke="#131722" stroke-width="0.12" textLength="55.0" lengthAdjust="spacingAndGlyphs">MA Cross (50, 200)</text>
<text x="105.3" y="35.4" font-family="Liberation Sans, sans-serif" font-size="7" fill="#4caf50" stroke="#4caf50" stroke-width="0.12" textLength="19.7" lengthAdjust="spacingAndGlyphs">522.36</text>
<text x="129.5" y="35.4" font-family="Liberation Sans, sans-serif" font-size="7" fill="#131722" stroke="#131722" stroke-width="0.12" textLength="20.0" lengthAdjust="spacingAndGlyphs">509.70</text>
<text x="154.2" y="35.3" font-family="Liberation Sans, sans-serif" font-size="5.6" fill="#131722">∅</text>
<text x="45.6" y="44.5" font-family="Liberation Sans, sans-serif" font-size="7" fill="#131722" stroke="#131722" stroke-width="0.12" textLength="8.4" lengthAdjust="spacingAndGlyphs">Vol</text>
<text x="58.8" y="44.5" font-family="Liberation Sans, sans-serif" font-size="7" fill="#26a69a" stroke="#26a69a" stroke-width="0.12" textLength="25.6" lengthAdjust="spacingAndGlyphs">550.93 K</text>
<path d="M6.9 472H13.2V479.8H10.1V474.8H6.9Z" fill="#000"/>
<circle cx="16.1" cy="473.4" r="1.4" fill="#000"/>
<path d="M18.8 472H23.1L20.25 479.8H16.4Z" fill="#000"/>
<text x="27.4" y="479.7" font-family="Liberation Sans, sans-serif" font-size="10.8" fill="#000" stroke="#000" stroke-width="0.5" textLength="67" lengthAdjust="spacingAndGlyphs">TradingView</text>
</svg>
</body></html>
